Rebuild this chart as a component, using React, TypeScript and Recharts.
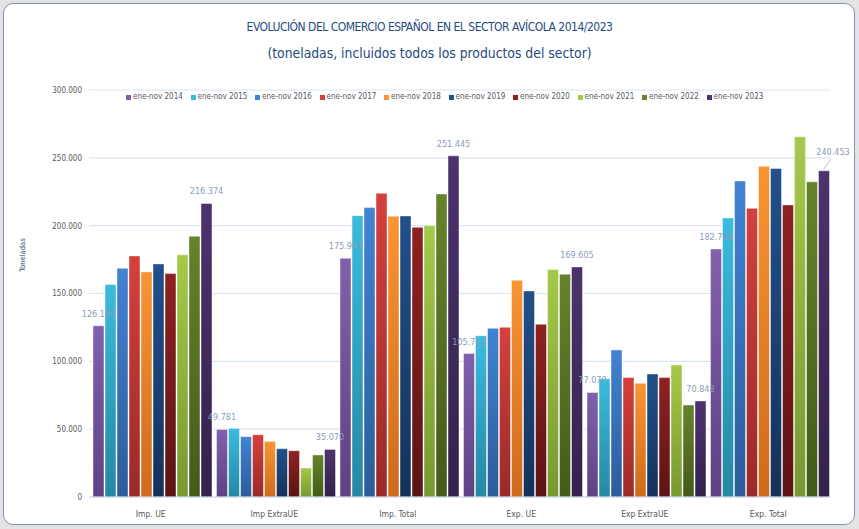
import { BarChart, Bar, XAxis, YAxis, CartesianGrid, LabelList } from 'recharts'

const CATEGORIES = ['Imp. UE', 'Imp ExtraUE', 'Imp. Total', 'Exp. UE', 'Exp ExtraUE', 'Exp. Total']
const YEARS = ['2014', '2015', '2016', '2017', '2018', '2019', '2020', '2021', '2022', '2023']

// toneladas, ene-nov of each year, per category (same order as CATEGORIES)
const V2014 = [126160, 49781, 175941, 105723, 77070, 182793]
const V2015 = [156600, 50600, 207400, 118900, 87200, 205700]
const V2016 = [168600, 44500, 213300, 124300, 108400, 233000]
const V2017 = [177700, 45900, 223900, 125100, 88000, 212800]
const V2018 = [165900, 41000, 206900, 159700, 83800, 243800]
const V2019 = [171800, 35600, 207200, 151900, 90700, 242100]
const V2020 = [164700, 34100, 198800, 127300, 88000, 215300]
const V2021 = [178500, 21400, 200000, 167600, 97300, 265500]
const V2022 = [192200, 31000, 223400, 164200, 67800, 232300]
const V2023 = [216374, 35070, 251445, 169605, 70848, 240453]

const Y_TICKS = [0, 50000, 100000, 150000, 200000, 250000, 300000]

const SERIES = [V2014, V2015, V2016, V2017, V2018, V2019, V2020, V2021, V2022, V2023]

// top / bottom colour of each bar gradient
const COLORS: [string, string][] = [
  ['#8160ad', '#5e4283'],
  ['#3bbbdd', '#2688a2'],
  ['#4283d2', '#2c5c9a'],
  ['#d5403d', '#992a29'],
  ['#f99532', '#cf6a1c'],
  ['#22508a', '#14325a'],
  ['#8e2222', '#5c1414'],
  ['#a5c94a', '#789831'],
  ['#66832a', '#445a1a'],
  ['#4d336e', '#33224b'],
]

const data = CATEGORIES.map((name, i) => {
  const row: Record<string, string | number> = { name }
  YEARS.forEach((y, j) => {
    row[y] = SERIES[j][i]
  })
  return row
})

const fmt = (v: number) => String(Math.round(v)).replace(/\B(?=(\d{3})+(?!\d))/g, '.')

const FONT = '"DejaVu Sans Condensed", "Open Sans", sans-serif'
const LABEL_COLOR = '#8a9cba'

function ValueLabel(props: any) {
  const { x, y, width, value, index, last } = props
  const cx = x + width / 2
  if (last && index === CATEGORIES.length - 1) {
    return (
      <g>
        <line x1={cx} y1={y - 2} x2={cx + 7} y2={y - 12} stroke="#9fb3d1" strokeWidth={0.8} />
        <text x={cx + 9} y={y - 16} textAnchor="middle" fontSize={9} fill={LABEL_COLOR} fontFamily={FONT}>
          {fmt(value)}
        </text>
      </g>
    )
  }
  return (
    <text x={cx} y={y - 9} textAnchor="middle" fontSize={9} fill={LABEL_COLOR} fontFamily={FONT}>
      {fmt(value)}
    </text>
  )
}

function LegendRow() {
  return (
    <div
      style={{
        position: 'absolute',
        left: 126,
        top: 92,
        display: 'flex',
        fontFamily: FONT,
        fontSize: 8,
        lineHeight: '10px',
        color: '#595959',
      }}
    >
      {YEARS.map((y, i) => (
        <div key={y} style={{ width: 64.5, display: 'flex', alignItems: 'center' }}>
          <span
            style={{
              width: 5,
              height: 5,
              background: COLORS[i][0],
              display: 'inline-block',
              marginRight: 2,
            }}
          />
          ene-nov {y}
        </div>
      ))}
    </div>
  )
}

export default function App() {
  return (
    <div
      style={{
        position: 'absolute',
        left: 0,
        top: 0,
        width: 859,
        height: 529,
        background: '#e3e3e3',
        fontFamily: FONT,
      }}
    >
      <div
        style={{
          position: 'absolute',
          left: 3,
          top: 3,
          width: 850,
          height: 520,
          background: '#fff',
          border: '1.5px solid #8194b4',
          borderRadius: 10,
        }}
      />
      <div
        style={{
          position: 'absolute',
          top: 14,
          width: 859,
          textAlign: 'center',
          color: '#1f4a7e',
          lineHeight: '26px',
        }}
      >
        <div style={{ fontSize: 12, letterSpacing: -0.5 }}>
          EVOLUCIÓN DEL COMERCIO ESPAÑOL EN EL SECTOR AVÍCOLA 2014/2023
        </div>
        <div style={{ fontSize: 13.8 }}>(toneladas, incluidos todos los productos del sector)</div>
      </div>
      <div
        style={{
          position: 'absolute',
          left: 22,
          top: 255,
          transform: 'translate(-50%, -50%) rotate(-90deg)',
          fontSize: 7.5,
          color: '#3a4f6e',
          whiteSpace: 'nowrap',
        }}
      >
        Toneladas
      </div>
      <div style={{ position: 'absolute', left: 0, top: 0 }}>
        <BarChart
          width={859}
          height={529}
          data={data}
          margin={{ top: 90, right: 29, bottom: 2, left: 9 }}
          barCategoryGap={4}
          barGap={1}
        >
          <defs>
            {COLORS.map(([a, b], i) => (
              <linearGradient key={i} id={`g${i}`} x1="0" y1="0" x2="0" y2="1">
                <stop offset="0%" stopColor={a} />
                <stop offset="100%" stopColor={b} />
              </linearGradient>
            ))}
          </defs>
          <CartesianGrid vertical={false} stroke="#dbe5f1" strokeWidth={1.2} />
          <XAxis
            dataKey="name"
            height={30}
            axisLine={{ stroke: '#cad8ea' }}
            tickLine={false}
            tick={{ fontSize: 8.5, fill: '#595959', fontFamily: FONT }}
            tickMargin={8}
          />
          <YAxis
            domain={[0, 300000]}
            ticks={Y_TICKS}
            width={80}
            axisLine={false}
            tickLine={false}
            tickSize={0}
            tickMargin={7}
            tickFormatter={fmt}
            tick={{ fontSize: 8, fill: '#595959', fontFamily: FONT }}
          />
          {YEARS.map((y, i) => (
            <Bar
              key={y}
              dataKey={y}
              name={`ene-nov ${y}`}
              fill={`url(#g${i})`}
              stroke="#ffffff"
              strokeOpacity={0.55}
              strokeWidth={0.8}
              isAnimationActive={false}
            >
              {(i === 0 || i === YEARS.length - 1) && (
                <LabelList dataKey={y} content={<ValueLabel last={i === YEARS.length - 1} />} />
              )}
            </Bar>
          ))}
        </BarChart>
      </div>
      <LegendRow />
    </div>
  )
}
